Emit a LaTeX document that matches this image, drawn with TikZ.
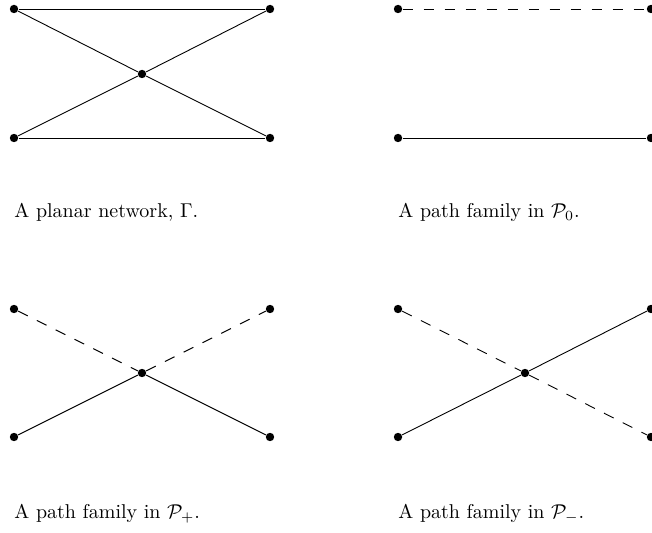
\documentclass[tikz,border=0pt]{standalone}
\usepackage{amsmath}
\usepackage{amssymb}
\usetikzlibrary{positioning}

\begin{document}
\begin{tikzpicture}[x=0.5pt, y=-0.5pt,
  vtx/.style={circle, fill=black, inner sep=0pt, minimum size=4.2pt},
  edge/.style={draw=black, line width=0.45pt},
  dedge/.style={draw=black, line width=0.45pt, dash pattern=on 5.4pt off 5.1pt},
  caption/.style={anchor=base west, inner sep=0pt, font=\normalsize}
]
\useasboundingbox (0,0) rectangle (652,533);

% Panel 1: the network
\node[vtx] (a1) at (14,9) {};
\node[vtx] (b1) at (270,9) {};
\node[vtx] (c1) at (14,138) {};
\node[vtx] (d1) at (270,138) {};
\node[vtx] (m1) at (142,74) {};
\draw[edge] (a1) -- (b1);
\draw[edge] (c1) -- (d1);
\draw[edge] (a1) -- (m1) -- (d1);
\draw[edge] (c1) -- (m1) -- (b1);
\node[caption] (t1) at (14,218) {A planar network, $\Gamma$.};

% Panel 2: family in P_0
\node[vtx] (a2) at (398,9) {};
\node[vtx] (b2) at (651,9) {};
\node[vtx] (c2) at (398,138) {};
\node[vtx] (d2) at (651,138) {};
\draw[dedge] (a2) -- (b2);
\draw[edge] (c2) -- (d2);
\node[caption] (t2) at (398,218) {A path family in $\mathcal{P}_0$.};

% Panel 3: family in P_+
\node[vtx] (a3) at (14,309) {};
\node[vtx] (b3) at (270,309) {};
\node[vtx] (c3) at (14,437) {};
\node[vtx] (d3) at (270,437) {};
\node[vtx] (m3) at (142,373) {};
\draw[dedge] (a3) -- (m3) -- (b3);
\draw[edge] (c3) -- (m3) -- (d3);
\node[caption] (t3) at (14,518) {A path family in $\mathcal{P}_+$.};

% Panel 4: family in P_-
\node[vtx] (a4) at (398,309) {};
\node[vtx] (b4) at (651,309) {};
\node[vtx] (c4) at (398,437) {};
\node[vtx] (d4) at (651,437) {};
\node[vtx] (m4) at (525,373) {};
\draw[dedge] (a4) -- (m4) -- (d4);
\draw[edge] (c4) -- (m4) -- (b4);
\node[caption] (t4) at (398,518) {A path family in $\mathcal{P}_-$.};
\end{tikzpicture}
\end{document}
